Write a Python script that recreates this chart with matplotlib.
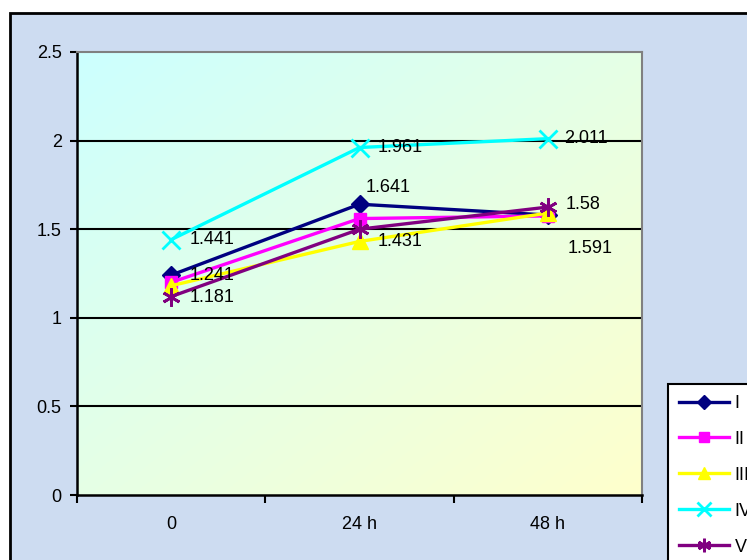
import numpy as np
import matplotlib.pyplot as plt
import matplotlib.patches as patches
from matplotlib.ticker import FixedLocator

plt.rcParams['font.family'] = ['Liberation Sans', 'DejaVu Sans']

# --- Data ---
categories = ['0', '24 h', '48 h']
series_names = ['I', 'II', 'III', 'IV', 'V']
vals_I = [1.241, 1.641, 1.58]
vals_II = [1.20, 1.56, 1.575]
vals_III = [1.181, 1.431, 1.591]
vals_IV = [1.441, 1.961, 2.011]
vals_V = [1.12, 1.50, 1.625]

# --- Styles ---
COL_I = '#000080'
COL_II = '#FF00FF'
COL_III = '#FFFF00'
COL_IV = '#00FFFF'
COL_V = '#800080'
COL_OUTER = '#cddcf1'
FS = 13

styles = [
    (vals_I, COL_I, 'D', 9),
    (vals_II, COL_II, 's', 9),
    (vals_III, COL_III, '^', 11),
    (vals_IV, COL_IV, 'x', 13),
    (vals_V, COL_V, (6, 2, 0), 13),
]

# data labels: (series values, index, offset in pixels)
labels = [
    (vals_IV, 0, (18, 0)),
    (vals_I, 0, (18, 0)),
    (vals_III, 0, (18, -12)),
    (vals_IV, 1, (18, 0)),
    (vals_I, 1, (6, 17)),
    (vals_III, 1, (18, 0)),
    (vals_IV, 2, (16, 0)),
    (vals_I, 2, (18, 11)),
    (vals_III, 2, (20, -35)),
]

fig = plt.figure(figsize=(7.47, 5.6), dpi=100)
fig.patch.set_facecolor('white')

# outer chart area with black frame (runs off the right/bottom edges)
W, H = 747, 560
outer = patches.Rectangle((10 / W, -0.1), 1.2, 1 - 13 / H + 0.1,
                          transform=fig.transFigure, facecolor=COL_OUTER,
                          edgecolor='black', linewidth=2, zorder=-5)
fig.patches.append(outer)

ax = fig.add_axes([77 / W, 1 - 495 / H, (642 - 77) / W, (495 - 52) / H])
ax.set_facecolor('none')

# diagonal gradient, cyan top-left to pale yellow bottom-right
gx, gy = np.meshgrid(np.linspace(0, 1, 200), np.linspace(0, 1, 200))
t = (gx + gy) / 2
c0 = np.array([204, 255, 255]) / 255
c1 = np.array([255, 255, 204]) / 255
grad = c0[None, None, :] * (1 - t[..., None]) + c1[None, None, :] * t[..., None]
ax.imshow(grad, extent=[0, 1, 0, 1], transform=ax.transAxes, aspect='auto',
          origin='upper', zorder=0)

x = np.arange(len(categories))
for y in [0.5, 1.0, 1.5, 2.0]:
    ax.axhline(y, color='black', linewidth=1.5, zorder=1)

for (vals, col, mk, ms), name in zip(styles, series_names):
    ax.plot(x, vals, color=col, linewidth=2.4, marker=mk, markersize=ms,
            markeredgewidth=2 if mk in ('x',) or isinstance(mk, tuple) else 1,
            markeredgecolor=col, markerfacecolor=col, label=name, zorder=3)

for vals, i, off in labels:
    ax.annotate(f'{vals[i]:g}', (x[i], vals[i]), xytext=off,
                textcoords='offset pixels', ha='left', va='center',
                fontsize=FS, zorder=5)

ax.set_xlim(-0.5, 2.5)
ax.set_ylim(0, 2.5)
ax.set_yticks([0, 0.5, 1, 1.5, 2, 2.5])
ax.set_yticklabels(['0', '0.5', '1', '1.5', '2', '2.5'])
ax.xaxis.set_major_locator(FixedLocator([-0.5, 0.5, 1.5, 2.5]))
ax.xaxis.set_major_formatter(plt.NullFormatter())
ax.xaxis.set_minor_locator(FixedLocator(x))
ax.set_xticklabels(categories, minor=True)
ax.tick_params(axis='x', which='major', direction='out', length=6, width=1.5)
ax.tick_params(axis='x', which='minor', length=0, pad=15, labelsize=FS)
ax.tick_params(axis='y', direction='out', length=5, width=1.5, pad=6, labelsize=FS)

for side in ['left', 'bottom']:
    ax.spines[side].set_color('black')
    ax.spines[side].set_linewidth(1.8)
for side in ['top', 'right']:
    ax.spines[side].set_color('#808080')
    ax.spines[side].set_linewidth(1.5)

leg = ax.legend(loc='upper left', bbox_to_anchor=(668 / W, 1 - 384 / H),
                bbox_transform=fig.transFigure, frameon=True, fancybox=False,
                fontsize=FS, labelspacing=1.05, handlelength=2.8,
                handletextpad=0.3, borderpad=0.6, borderaxespad=0,
                markerscale=0.75)
leg.get_frame().set_edgecolor('black')
leg.get_frame().set_linewidth(1.5)
leg.get_frame().set_facecolor('white')
leg.get_frame().set_alpha(1)

fig.savefig('out.png', dpi=100)
